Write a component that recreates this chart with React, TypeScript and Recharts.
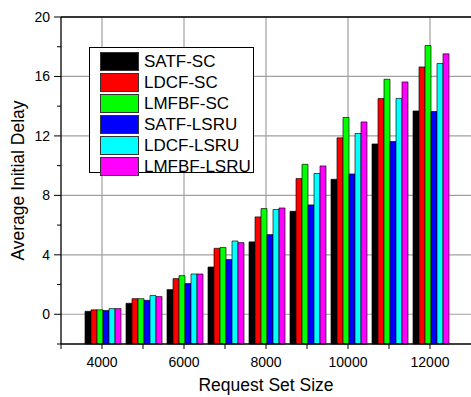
import React from 'react';
import { BarChart, Bar, XAxis, YAxis, CartesianGrid, ReferenceLine } from 'recharts';

const sizes = [4000, 5000, 6000, 7000, 8000, 9000, 10000, 11000, 12000];
const satfSc = [0.2, 0.74, 1.66, 3.18, 4.87, 6.93, 9.08, 11.46, 13.68];
const ldcfSc = [0.3, 1.05, 2.4, 4.44, 6.55, 9.13, 11.87, 14.52, 16.64];
const lmfbfSc = [0.3, 1.05, 2.6, 4.49, 7.11, 10.09, 13.24, 15.81, 18.08];
const satfLsru = [0.25, 0.94, 2.07, 3.68, 5.36, 7.36, 9.44, 11.62, 13.64];
const ldcfLsru = [0.38, 1.26, 2.71, 4.93, 7.05, 9.47, 12.16, 14.52, 16.87];
const lmfbfLsru = [0.38, 1.19, 2.71, 4.82, 7.15, 9.98, 12.94, 15.63, 17.52];

const seriesNames = ['SATF-SC', 'LDCF-SC', 'LMFBF-SC', 'SATF-LSRU', 'LDCF-LSRU', 'LMFBF-LSRU'];
const seriesValues = [satfSc, ldcfSc, lmfbfSc, satfLsru, ldcfLsru, lmfbfLsru];
const colors = ['#000000', '#ff0000', '#00ff00', '#0000ff', '#00ffff', '#ff00ff'];

const xTicks = [3000, 4000, 5000, 6000, 7000, 8000, 9000, 10000, 11000, 12000];
const yTicks = [-2, 0, 2, 4, 6, 8, 10, 12, 14, 16, 18, 20];
const yMajor = [0, 4, 8, 12, 16, 20];
const xMajor = [4000, 6000, 8000, 10000, 12000];

const data = sizes.map((size, i) => {
  const row: any = { size };
  seriesNames.forEach((name, s) => {
    row[name] = seriesValues[s][i];
  });
  return row;
});

const font = '"Liberation Sans", Arial, sans-serif';

const XTick = ({ x, y, payload }: any) => {
  const labeled = xMajor.includes(payload.value);
  return (
    <g>
      <line x1={x} x2={x} y1={y} y2={y + 5} stroke="#000" />
      {labeled && (
        <text x={x} y={y + 23} textAnchor="middle" fontSize={14} fontFamily={font} fill="#000">
          {payload.value}
        </text>
      )}
    </g>
  );
};

const YTick = ({ x, y, payload }: any) => {
  const labeled = yMajor.includes(payload.value);
  return (
    <g>
      <line x1={x} x2={x - (labeled ? 7 : 4)} y1={y} y2={y} stroke="#000" />
      {labeled && (
        <text x={x - 11} y={y + 5} textAnchor="end" fontSize={14} fontFamily={font} fill="#000">
          {payload.value}
        </text>
      )}
    </g>
  );
};

const App: React.FC = () => {
  return (
    <div style={{ position: 'absolute', left: 0, top: 0, width: 471, height: 397, background: '#fff' }}>
      <BarChart
        width={471}
        height={397}
        data={data}
        margin={{ top: 17, right: 0, bottom: 0, left: 0 }}
        barCategoryGap={3.5}
        barGap={0}
      >
        <CartesianGrid
          stroke="#a0a0a0"
          strokeWidth={1.2}
          horizontalValues={yMajor}
          verticalValues={xMajor}
        />
        <XAxis
          dataKey="size"
          type="number"
          domain={[3000, 13000]}
          ticks={xTicks}
          interval={0}
          height={53}
          tickSize={0}
          tickMargin={0}
          tickLine={false}
          tick={<XTick />}
          axisLine={{ stroke: '#000', strokeWidth: 1.3 }}
          label={({ viewBox }: any) => (
            <text
              x={viewBox.x + viewBox.width / 2}
              y={viewBox.y + 47}
              textAnchor="middle"
              fontSize={17.5}
              fontFamily={font}
              fill="#000"
            >
              Request Set Size
            </text>
          )}
        />
        <YAxis
          type="number"
          domain={[-2, 20]}
          ticks={yTicks}
          interval={0}
          width={61}
          tickSize={0}
          tickMargin={0}
          tickLine={false}
          tick={<YTick />}
          axisLine={{ stroke: '#000', strokeWidth: 1.3 }}
          label={({ viewBox }: any) => {
            const cx = viewBox.x + 18;
            const cy = viewBox.y + viewBox.height / 2;
            return (
              <text
                x={cx}
                y={cy}
                textAnchor="middle"
                dominantBaseline="central"
                transform={`rotate(-90, ${cx}, ${cy})`}
                fontSize={17.5}
                fontFamily={font}
                fill="#000"
              >
                Average Initial Delay
              </text>
            );
          }}
        />
        <ReferenceLine y={20} stroke="#000" strokeWidth={1.3} />
        {seriesNames.map((name, s) => (
          <Bar
            key={name}
            dataKey={(d: any) => [-2, d[name]]}
            name={name}
            fill={colors[s]}
            stroke="#000"
            strokeOpacity={0.65}
            strokeWidth={1}
            isAnimationActive={false}
          />
        ))}
      </BarChart>
      <div
        style={{
          position: 'absolute',
          left: 89,
          top: 47,
          width: 165,
          height: 126,
          border: '1px solid #000',
          background: '#fff',
          fontFamily: font,
          fontSize: 17,
          padding: '3px 0 0 10px',
          boxSizing: 'border-box',
        }}
      >
        {seriesNames.map((name, s) => (
          <div key={name} style={{ display: 'flex', alignItems: 'center', height: 21 }}>
            <div
              style={{
                width: 37,
                height: 17,
                background: colors[s],
                border: '1px solid #333',
                marginRight: 5,
              }}
            />
            <span style={{ lineHeight: '21px' }}>{name}</span>
          </div>
        ))}
      </div>
    </div>
  );
};

export default App;
